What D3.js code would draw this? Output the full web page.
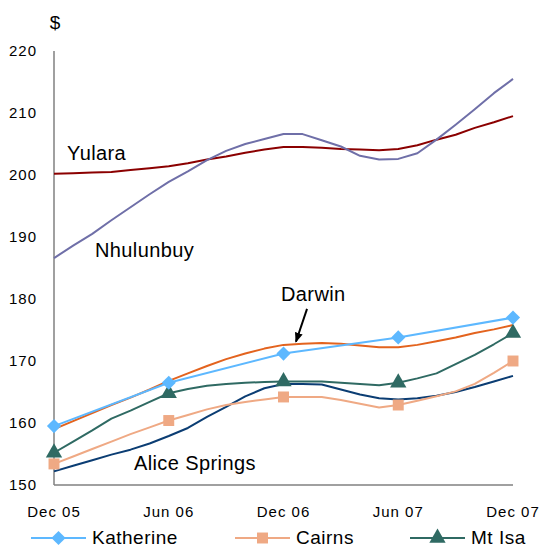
<!DOCTYPE html>
<html>
<head>
<meta charset="utf-8">
<script src="https://cdn.jsdelivr.net/npm/d3@7"></script>
<style>
  body { margin: 0; background: #fff; }
  text { font-family: "Liberation Sans", Arial, sans-serif; fill: #000; }
</style>
</head>
<body>
<script>
// monthly index, 0 = Dec 05 ... 24 = Dec 07
const months = d3.range(25);
const tickMonths = [0, 6, 12, 18, 24];
const tickLabels = ["Dec 05", "Jun 06", "Dec 06", "Jun 07", "Dec 07"];
const yTicks = [150, 160, 170, 180, 190, 200, 210, 220];

const katherine = [159.5, null, null, null, null, null, 166.5, null, null, null, null, null, 171.2,
  null, null, null, null, null, 173.8, null, null, null, null, null, 177.0];
const cairns = [153.4, 154.6, 155.8, 157.0, 158.2, 159.3, 160.4, 161.3, 162.2, 162.9, 163.4, 163.8, 164.2,
  164.2, 164.2, 163.7, 163.1, 162.5, 162.9, 163.6, 164.3, 165.1, 166.3, 168.1, 170.0];
const mtIsa = [155.2, 157.0, 158.8, 160.7, 162.0, 163.4, 164.8, 165.5, 166.0, 166.3, 166.5, 166.6, 166.7,
  166.7, 166.7, 166.5, 166.3, 166.1, 166.5, 167.2, 168.0, 169.5, 171.0, 172.7, 174.5];
const darwin = [159.0, 160.3, 161.6, 162.9, 164.1, 165.4, 166.8, 168.0, 169.2, 170.3, 171.2, 172.0, 172.6,
  172.8, 172.9, 172.8, 172.5, 172.2, 172.2, 172.6, 173.2, 173.8, 174.5, 175.1, 175.8];
const aliceSprings = [152.2, 153.1, 154.0, 154.9, 155.7, 156.7, 157.9, 159.2, 161.0, 162.6, 164.3, 165.6, 166.3,
  166.3, 166.2, 165.4, 164.6, 164.0, 163.8, 164.0, 164.4, 165.0, 165.8, 166.7, 167.6];
const yulara = [200.2, 200.3, 200.4, 200.5, 200.8, 201.1, 201.4, 201.9, 202.5, 203.0, 203.6, 204.1, 204.5,
  204.5, 204.4, 204.2, 204.1, 204.0, 204.2, 204.8, 205.7, 206.5, 207.6, 208.5, 209.5];
const nhulunbuy = [186.6, 188.6, 190.5, 192.7, 194.8, 196.9, 198.9, 200.6, 202.4, 203.9, 205.0, 205.8, 206.6,
  206.6, 205.6, 204.6, 203.1, 202.5, 202.6, 203.5, 205.7, 208.1, 210.6, 213.2, 215.5];

// diamond = square turned 45 degrees
const series = [
  { name: "Yulara", values: yulara, color: "#8b0000", marker: null },
  { name: "Nhulunbuy", values: nhulunbuy, color: "#6f6fa8", marker: null },
  { name: "Alice Springs", values: aliceSprings, color: "#0b3d73", marker: null },
  { name: "Darwin", values: darwin, color: "#e3631e", marker: null },
  { name: "Cairns", values: cairns, color: "#efa984", marker: d3.symbolSquare, size: 120, rot: 0 },
  { name: "Mt Isa", values: mtIsa, color: "#2f6a63", marker: d3.symbolTriangle, size: 115, rot: 0 },
  { name: "Katherine", values: katherine, color: "#5db8ff", marker: d3.symbolSquare, size: 100, rot: 45 }
];

const legendItems = ["Katherine", "Cairns", "Mt Isa"];

const width = 542, height = 549;

const svg = d3.select("body")
    .append("svg")
    .attr("width", width)
    .attr("height", height);

const x = d3.scaleLinear().domain([0, 24]).range([54, 513]);
const y = d3.scaleLinear().domain([150, 220]).range([485, 51]);

// axes lines
svg.append("line")
    .attr("x1", x(0)).attr("x2", x(0))
    .attr("y1", y(220)).attr("y2", y(150))
    .attr("stroke", "#808080").attr("stroke-width", 1.5);
svg.append("line")
    .attr("x1", x(0)).attr("x2", x(24))
    .attr("y1", y(150)).attr("y2", y(150))
    .attr("stroke", "#808080").attr("stroke-width", 1.5);

svg.selectAll(".ytick")
    .data(yTicks)
    .join("text")
    .attr("class", "ytick")
    .attr("x", 37)
    .attr("y", d => y(d))
    .attr("dy", "0.36em")
    .attr("text-anchor", "end")
    .style("font-size", "15px")
    .style("letter-spacing", "1px")
    .text(d => d);

svg.selectAll(".xtick")
    .data(tickMonths)
    .join("text")
    .attr("class", "xtick")
    .attr("x", d => x(d))
    .attr("y", 517)
    .attr("text-anchor", "middle")
    .style("font-size", "15px")
    .style("letter-spacing", "1px")
    .text((d, i) => tickLabels[i]);

svg.append("text")
    .attr("x", 55)
    .attr("y", 29)
    .attr("text-anchor", "middle")
    .style("font-size", "19px")
    .text("$");

const line = d3.line()
    .x(d => x(d.m))
    .y(d => y(d.v));

series.forEach(s => {
  const pts = months.map(m => ({ m: m, v: s.values[m] })).filter(d => d.v != null);
  svg.append("path")
      .datum(pts)
      .attr("fill", "none")
      .attr("stroke", s.color)
      .attr("stroke-width", 2)
      .attr("stroke-linejoin", "round")
      .attr("d", line);
  if (s.marker) {
    svg.selectAll(null)
        .data(pts.filter(d => tickMonths.includes(d.m)))
        .join("path")
        .attr("transform", d => `translate(${x(d.m)},${y(d.v)}) rotate(${s.rot})`)
        .attr("d", d3.symbol().type(s.marker).size(s.size))
        .attr("fill", s.color);
  }
});

// series labels on the chart
const labels = [
  { text: "Yulara", m: 0.68, v: 202.5 },
  { text: "Nhulunbuy", m: 2.14, v: 186.7 },
  { text: "Darwin", m: 11.87, v: 179.6 },
  { text: "Alice Springs", m: 4.18, v: 152.4 }
];
svg.selectAll(".lbl")
    .data(labels)
    .join("text")
    .attr("class", "lbl")
    .attr("x", d => x(d.m))
    .attr("y", d => y(d.v))
    .style("font-size", "20px")
    .style("letter-spacing", "0.4px")
    .text(d => d.text);

svg.append("defs").append("marker")
    .attr("id", "arrow")
    .attr("viewBox", "0 0 10 10")
    .attr("refX", 9).attr("refY", 5)
    .attr("markerWidth", 5).attr("markerHeight", 5)
    .attr("orient", "auto")
    .append("path")
    .attr("d", "M0,1L10,5L0,9Z")
    .attr("fill", "#000");

svg.append("line")
    .attr("x1", x(13.23)).attr("y1", y(178.4))
    .attr("x2", x(12.65)).attr("y2", y(173.1))
    .attr("stroke", "#000").attr("stroke-width", 2)
    .attr("marker-end", "url(#arrow)");

// legend
const legendX = [31, 235, 410];
const legend = svg.selectAll(".legend")
    .data(legendItems)
    .join("g")
    .attr("class", "legend")
    .attr("transform", (d, i) => `translate(${legendX[i]},538)`);

legend.append("line")
    .attr("x1", 0).attr("x2", 55)
    .attr("stroke", d => series.find(s => s.name === d).color)
    .attr("stroke-width", 2);
legend.append("path")
    .attr("transform", d => `translate(27.5,0) rotate(${series.find(s => s.name === d).rot})`)
    .attr("d", d => {
      const s = series.find(s => s.name === d);
      return d3.symbol().type(s.marker).size(s.size)();
    })
    .attr("fill", d => series.find(s => s.name === d).color);
legend.append("text")
    .attr("x", 61)
    .attr("dy", "0.34em")
    .style("font-size", "19px")
    .style("letter-spacing", "0.5px")
    .text(d => d);
</script>
</body>
</html>
